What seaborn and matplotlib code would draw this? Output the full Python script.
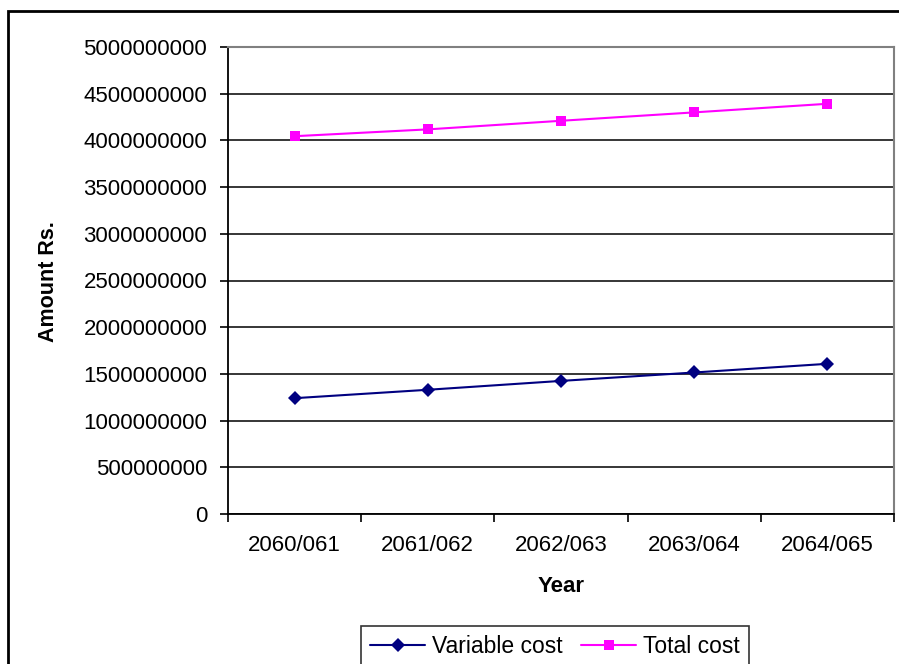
import matplotlib
matplotlib.use("Agg")
import matplotlib.pyplot as plt
import matplotlib.ticker as mticker
from matplotlib.patches import Rectangle
import seaborn as sns
import pandas as pd

# Fiscal years and yearly cost figures (Rs.)
years = ["2060/061", "2061/062", "2062/063", "2063/064", "2064/065"]
variable_cost = [1240000000, 1330000000, 1425000000, 1515000000, 1608000000]
total_cost = [4045000000, 4118000000, 4210000000, 4300000000, 4392000000]
series_names = ["Variable cost", "Total cost"]
y_ticks = [0, 500000000, 1000000000, 1500000000, 2000000000, 2500000000,
           3000000000, 3500000000, 4000000000, 4500000000, 5000000000]

df = pd.DataFrame({
    "Year": years * 2,
    "Amount": variable_cost + total_cost,
    "Series": [series_names[0]] * len(years) + [series_names[1]] * len(years),
})
df["pos"] = list(range(len(years))) * 2

sns.set_theme(style="white")
plt.rcParams["font.family"] = ["Liberation Sans", "DejaVu Sans"]

W, H = 899, 664
fig = plt.figure(figsize=(W / 100, H / 100), dpi=100)
fig.patch.set_facecolor("white")

# outer chart border (continues past the right and bottom edges)
fig.patches.append(Rectangle((8 / W, -0.05), 1.1, (H - 11) / H + 0.05,
                             transform=fig.transFigure, fill=False,
                             edgecolor="black", linewidth=2, zorder=0))

left, right, top, bottom = 228, 894, 47, 514
ax = fig.add_axes([left / W, (H - bottom) / H, (right - left) / W, (bottom - top) / H])
ax.set_facecolor("white")

sns.lineplot(data=df, x="pos", y="Amount", hue="Series", style="Series",
             markers={"Variable cost": "D", "Total cost": "s"}, dashes=False,
             palette={"Variable cost": "#000080", "Total cost": "#FF00FF"},
             linewidth=1.5, markersize=7, markeredgewidth=0, ax=ax, legend=True)

ax.set_xlim(-0.5, len(years) - 0.5)
ax.set_ylim(y_ticks[0], y_ticks[-1])
ax.set_yticks(y_ticks)
ax.yaxis.set_major_formatter(mticker.FuncFormatter(lambda v, p: f"{v:.0f}"))

# category boundaries carry the tick marks, labels sit between them
ax.set_xticks([i - 0.5 for i in range(len(years) + 1)])
ax.set_xticklabels([])
ax.set_xticks(range(len(years)), minor=True)
ax.set_xticklabels(years, minor=True)
ax.tick_params(axis="x", which="major", direction="out", length=6, width=1.2,
               color="black", bottom=True)
ax.tick_params(axis="x", which="minor", length=0, pad=15, labelsize=16,
               labelcolor="black")
ax.tick_params(axis="y", which="major", direction="out", length=6, width=1.2,
               color="black", left=True, pad=9, labelsize=16, labelcolor="black")

ax.grid(axis="y", color="black", linewidth=1.1)
ax.grid(axis="x", visible=False)
ax.set_axisbelow(True)
ax.yaxis.get_gridlines()[-1].set_visible(False)

for side in ["left", "bottom"]:
    ax.spines[side].set_color("black")
    ax.spines[side].set_linewidth(1.3)
for side in ["top", "right"]:
    ax.spines[side].set_color("#808080")
    ax.spines[side].set_linewidth(1.5)

ax.set_xlabel("Year", fontsize=16, fontweight="bold", color="black")
ax.set_ylabel("Amount Rs.", fontsize=15.5, fontweight="bold", color="black")
ax.xaxis.set_label_coords((561 - left) / (right - left), (bottom - 587) / (bottom - top))
ax.yaxis.set_label_coords((48 - left) / (right - left), (bottom - 282) / (bottom - top))
ax.xaxis.label.set_va("center")
ax.yaxis.label.set_va("center")

handles, labels = ax.get_legend_handles_labels()
ax.legend_.remove()
leg = fig.legend(handles, labels, loc="upper center",
                 bbox_to_anchor=(555 / W, (H - 626) / H), ncol=2, fontsize=16.5,
                 frameon=True, fancybox=False, shadow=False, handlelength=2.4,
                 handletextpad=0.3, columnspacing=0.8, borderpad=0.4,
                 borderaxespad=0)
leg.get_frame().set_edgecolor("black")
leg.get_frame().set_linewidth(1.2)
for t in leg.get_texts():
    t.set_color("black")

fig.savefig("out.png", dpi=100, facecolor="white")
